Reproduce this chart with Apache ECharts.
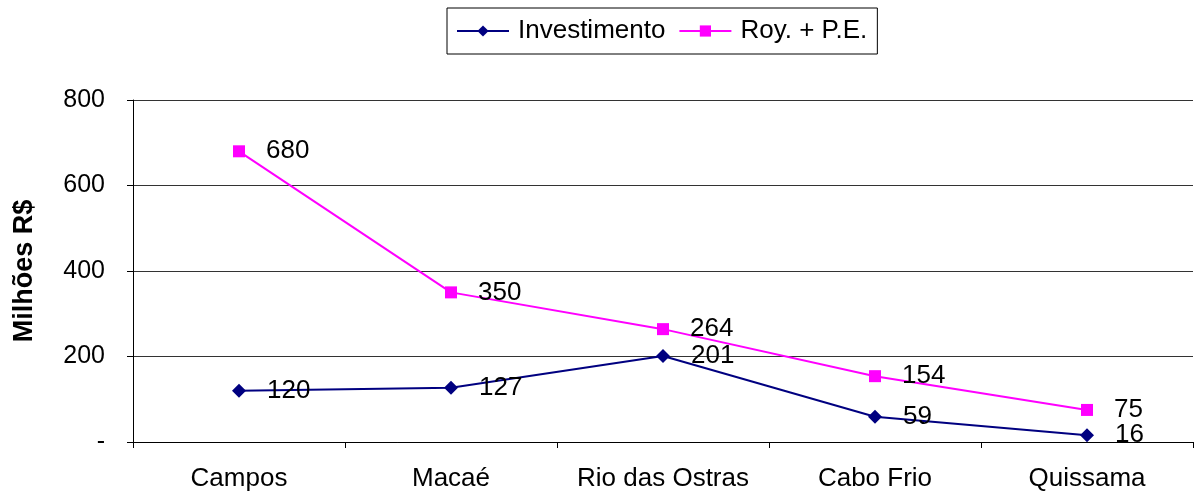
<!DOCTYPE html>
<html>
<head>
<meta charset="utf-8">
<script src="https://cdn.jsdelivr.net/npm/echarts@6/dist/echarts.min.js"></script>
<style>html,body{margin:0;padding:0;background:#fff}#c{width:1196px;height:495px}</style>
</head>
<body>
<div id="c"></div>
<script>
const categories = ['Campos', 'Macaé', 'Rio das Ostras', 'Cabo Frio', 'Quissama'];
const investimento = [120, 127, 201, 59, 16];
const royPE = [680, 350, 264, 154, 75];
const yTicks = [0, 200, 400, 600, 800];

const chart = echarts.init(document.getElementById('c'), null, {renderer: 'canvas'});
const font = 'Liberation Sans, Arial, sans-serif';
const lbl = {show: true, position: 'right', distance: 21, fontSize: 26, color: '#000', fontFamily: font};
chart.setOption({
  animation: false,
  backgroundColor: '#fff',
  textStyle: {fontFamily: font},
  legend: {
    top: 8, left: 447,
    borderColor: '#000', borderWidth: 1, borderRadius: 0,
    padding: [10, 10, 10, 9],
    itemWidth: 52, itemHeight: 14, itemGap: 13,
    textStyle: {fontSize: 26, color: '#000', fontFamily: font, padding: [0, 0, 0, 4]},
    data: ['Investimento', 'Roy. + P.E.']
  },
  grid: {left: 133, right: 3, top: 100, bottom: 53},
  xAxis: {
    type: 'category', data: categories, boundaryGap: true,
    axisLine: {lineStyle: {color: '#000', width: 1}},
    axisTick: {show: true, interval: 0, length: 6, lineStyle: {color: '#000'}},
    axisLabel: {interval: 0, fontSize: 26, color: '#000', margin: 24, fontFamily: font}
  },
  yAxis: {
    type: 'value', min: 0, max: 800, interval: 200,
    name: 'Milhões R$', nameLocation: 'middle', nameGap: 95, nameRotate: 90,
    nameTextStyle: {fontSize: 27, fontWeight: 'bold', color: '#000', fontFamily: font},
    axisLine: {show: true, lineStyle: {color: '#000', width: 1}},
    axisTick: {show: true, length: 6, lineStyle: {color: '#000'}},
    axisLabel: {fontSize: 25, color: '#000', margin: 28, fontFamily: font,
      formatter: v => yTicks.includes(v) ? (v === 0 ? '-' : String(v)) : ''},
    splitLine: {show: true, lineStyle: {color: '#333', width: 1}}
  },
  series: [
    {
      name: 'Investimento', type: 'line', data: investimento,
      symbol: 'diamond', symbolSize: 14,
      itemStyle: {color: '#000080'}, lineStyle: {color: '#000080', width: 2},
      label: lbl
    },
    {
      name: 'Roy. + P.E.', type: 'line', data: royPE,
      symbol: 'rect', symbolSize: 12,
      itemStyle: {color: '#FF00FF'}, lineStyle: {color: '#FF00FF', width: 2},
      label: lbl
    }
  ]
});
</script>
</body>
</html>
